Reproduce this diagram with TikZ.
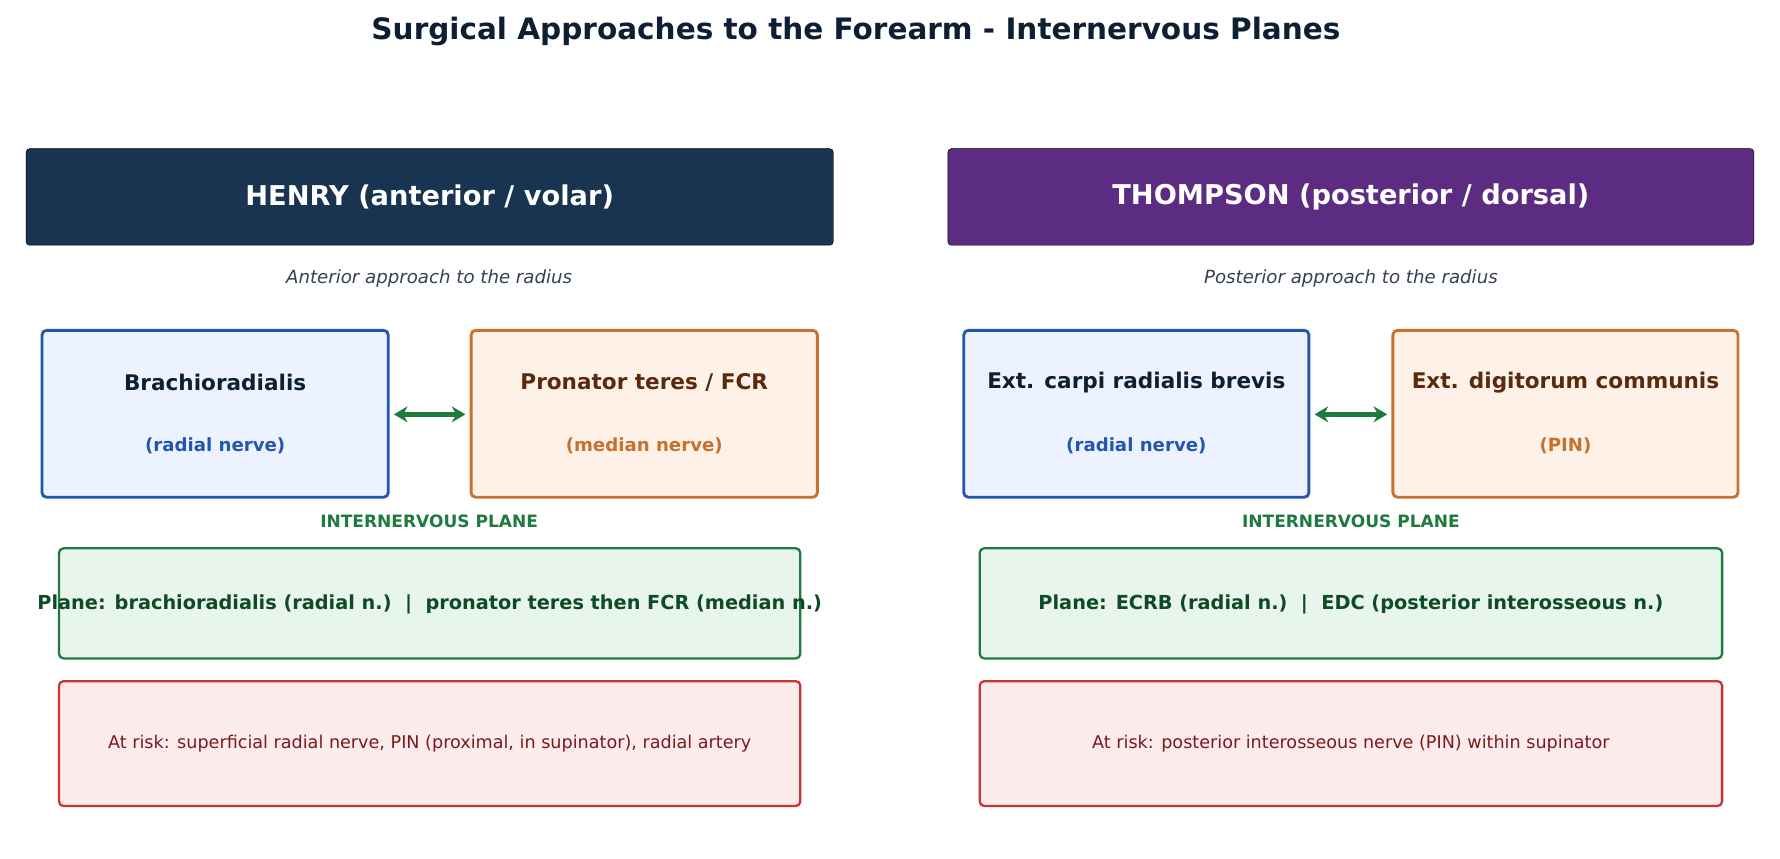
\documentclass[tikz,border=0pt]{standalone}
\usepackage{fontspec}
\setmainfont{DejaVu Sans}
\usetikzlibrary{arrows.meta}
\definecolor{navy}{HTML}{183450}
\definecolor{purp}{HTML}{5B2C81}
\definecolor{blueb}{HTML}{2456B0}
\definecolor{bluef}{HTML}{EDF3FE}
\definecolor{orab}{HTML}{C8702E}
\definecolor{oraf}{HTML}{FEF2E8}
\definecolor{oratx}{HTML}{5A2A0E}
\definecolor{grnb}{HTML}{1E7A3E}
\definecolor{grnf}{HTML}{E8F5EC}
\definecolor{grntx}{HTML}{0F4A26}
\definecolor{redb}{HTML}{CC3333}
\definecolor{redf}{HTML}{FCEBEB}
\definecolor{redtx}{HTML}{7A1A1A}
\definecolor{ink}{HTML}{0F1F33}
\tikzset{
  header/.style={rounded corners=3pt, text=white, font=\fontsize{24}{28}\selectfont\bfseries},
  muscle/.style={draw, line width=2.5pt, rounded corners=4pt},
  plane/.style={draw=grnb, fill=grnf, line width=2pt, rounded corners=4pt},
  risk/.style={draw=redb, fill=redf, line width=2pt, rounded corners=4pt},
  swap/.style={<->, >={Stealth[length=12pt,width=14pt]}, grnb, line width=4pt}
}
\begin{document}
\begin{tikzpicture}[x=1pt,y=-1pt]
  \useasboundingbox (0,0) rectangle (1568,756);

  \node[text=ink, font=\fontsize{26}{30}\selectfont\bfseries] (title) at (754,28) {Surgical Approaches to the Forearm - Internervous Planes};

  % Henry
  \filldraw[header, fill=navy] (23,131) rectangle (734,216);
  \node[text=white, font=\fontsize{24}{28}\selectfont\bfseries] (henry) at (378.5,173.5) {HENRY (anterior / volar)};
  \node[text=ink!85, font=\fontsize{16}{19}\selectfont\itshape] (hsub) at (378,245) {Anterior approach to the radius};

  \filldraw[muscle, draw=blueb, fill=bluef] (37,291) rectangle (342,438);
  \node[text=ink, font=\fontsize{19}{22}\selectfont\bfseries] (br) at (189.5,337) {Brachioradialis};
  \node[text=blueb, font=\fontsize{16}{19}\selectfont\bfseries] (brn) at (189.5,393) {(radial nerve)};
  \coordinate (brr) at (347,365);

  \filldraw[muscle, draw=orab, fill=oraf] (415,291) rectangle (720,438);
  \node[text=oratx, font=\fontsize{19}{22}\selectfont\bfseries] (pt) at (567.5,337) {Pronator teres / FCR};
  \node[text=orab, font=\fontsize{16}{19}\selectfont\bfseries] (ptn) at (567.5,393) {(median nerve)};
  \coordinate (ptl) at (410,365);
  \draw[swap] (brr) -- (ptl);

  \node[text=grnb, font=\fontsize{15}{18}\selectfont\bfseries] (hip) at (378,459) {INTERNERVOUS PLANE};
  \filldraw[plane] (52,483) rectangle (705,580);
  \node[text=grntx, font=\fontsize{17}{20}\selectfont\bfseries] (hpl) at (378.5,532) {Plane: brachioradialis (radial n.)~~|~~pronator teres then FCR (median n.)};
  \filldraw[risk] (52,600) rectangle (705,710);
  \node[text=redtx, font=\fontsize{15.5}{18}\selectfont] (hrk) at (378.5,655) {At risk: superficial radial nerve, PIN (proximal, in supinator), radial artery};

  % Thompson
  \filldraw[header, fill=purp] (835,131) rectangle (1545,216);
  \node[text=white, font=\fontsize{24}{28}\selectfont\bfseries] (thom) at (1190,173.5) {THOMPSON (posterior / dorsal)};
  \node[text=ink!85, font=\fontsize{16}{19}\selectfont\itshape] (tsub) at (1190,245) {Posterior approach to the radius};

  \filldraw[muscle, draw=blueb, fill=bluef] (849,291) rectangle (1153,438);
  \node[text=ink, font=\fontsize{19}{22}\selectfont\bfseries] (ecrb) at (1001,337) {Ext. carpi radialis brevis};
  \node[text=blueb, font=\fontsize{16}{19}\selectfont\bfseries] (ecrbn) at (1001,393) {(radial nerve)};
  \coordinate (ecrbr) at (1158,365);

  \filldraw[muscle, draw=orab, fill=oraf] (1227,291) rectangle (1531,438);
  \node[text=oratx, font=\fontsize{19}{22}\selectfont\bfseries] (edc) at (1379,337) {Ext. digitorum communis};
  \node[text=orab, font=\fontsize{16}{19}\selectfont\bfseries] (edcn) at (1379,393) {(PIN)};
  \coordinate (edcl) at (1222,365);
  \draw[swap] (ecrbr) -- (edcl);

  \node[text=grnb, font=\fontsize{15}{18}\selectfont\bfseries] (tip) at (1190,459) {INTERNERVOUS PLANE};
  \filldraw[plane] (863,483) rectangle (1517,580);
  \node[text=grntx, font=\fontsize{17}{20}\selectfont\bfseries] (tpl) at (1190,532) {Plane: ECRB (radial n.)~~|~~EDC (posterior interosseous n.)};
  \filldraw[risk] (863,600) rectangle (1517,710);
  \node[text=redtx, font=\fontsize{15.5}{18}\selectfont] (trk) at (1190,655) {At risk: posterior interosseous nerve (PIN) within supinator};
\end{tikzpicture}
\end{document}
